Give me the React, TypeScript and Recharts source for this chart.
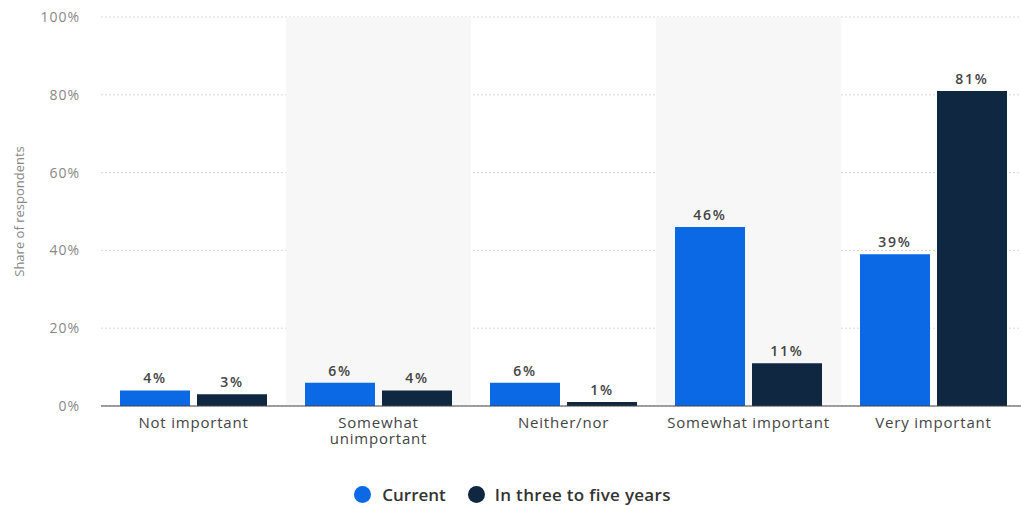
import React from 'react';
import { BarChart, Bar, XAxis, YAxis, CartesianGrid, Legend, LabelList, ReferenceArea } from 'recharts';

const categories = ['Not important', 'Somewhat\nunimportant', 'Neither/nor', 'Somewhat important', 'Very important'];
const currentValues = [4, 6, 6, 46, 39];
const futureValues = [3, 4, 1, 11, 81];
const yTicks = [0, 20, 40, 60, 80, 100];
const shadedCategories = ['Somewhat\nunimportant', 'Somewhat important'];

const BLUE = '#0b69e6';
const NAVY = '#0f2740';

const data = categories.map((c, i) => ({ name: c, current: currentValues[i], future: futureValues[i] }));

const FONT = '"Open Sans", "Noto Sans", sans-serif';

const XTick = (props: any) => {
  const { x, y, payload } = props;
  const lines = String(payload.value).split('\n');
  return (
    <g transform={`translate(${x},${y})`}>
      <text x={0} y={0} textAnchor="middle" fill="#444" fontSize={15} letterSpacing={0.8} fontFamily={FONT}>
        {lines.map((l, i) => (
          <tspan key={i} x={0} dy={i === 0 ? 14 : 16}>
            {l}
          </tspan>
        ))}
      </text>
    </g>
  );
};

const LegendContent = () => (
  <div style={{ display: 'flex', justifyContent: 'center', alignItems: 'center', fontFamily: FONT, fontSize: 17, fontWeight: 600, color: '#333', paddingLeft: 4 }}>
    <span style={{ display: 'inline-block', width: 17, height: 17, borderRadius: 9, background: BLUE, marginRight: 11 }} />
    <span style={{ marginRight: 22 }}>Current</span>
    <span style={{ display: 'inline-block', width: 17, height: 17, borderRadius: 9, background: NAVY, marginRight: 10 }} />
    <span style={{ letterSpacing: 0.3 }}>In three to five years</span>
  </div>
);

export default function App() {
  return (
    <div style={{ position: 'absolute', left: 0, top: 0, width: 1021, height: 506, overflow: 'hidden', background: '#fff' }}>
      <BarChart
        width={1026}
        height={506}
        data={data}
        margin={{ top: 17, right: 0, left: 1, bottom: 0 }}
        barGap={7}
        barCategoryGap={19}
      >
        {shadedCategories.map((c) => (
          <ReferenceArea key={c} x1={c} x2={c} fill="#f7f7f7" fillOpacity={1} stroke="none" ifOverflow="visible" />
        ))}
        <CartesianGrid vertical={false} stroke="#d8d8d8" strokeDasharray="2 2" />
        <XAxis
          dataKey="name"
          height={60}
          tick={<XTick />}
          tickLine={false}
          axisLine={{ stroke: '#444', strokeWidth: 1 }}
          interval={0}
        />
        <YAxis
          width={100}
          domain={[0, 100]}
          ticks={yTicks}
          tickFormatter={(v) => `${v}%`}
          tick={{ fill: '#888', fontSize: 14, fontFamily: FONT, letterSpacing: 1 }}
          tickLine={false}
          tickSize={0}
          tickMargin={21}
          axisLine={false}
          label={{ value: 'Share of respondents', angle: -90, position: 'insideLeft', dx: 13, fill: '#888', fontSize: 13, fontFamily: FONT, style: { textAnchor: 'middle' } }}
        />
        <Legend verticalAlign="bottom" height={40} wrapperStyle={{ top: 483, left: 0, width: 1021 }} content={<LegendContent />} />
        <Bar dataKey="current" name="Current" fill={BLUE} barSize={70} isAnimationActive={false}>
          <LabelList dataKey="current" position="top" offset={7} formatter={(v: any) => `${v}%`} fill="#444" fontSize={14} fontWeight={600} letterSpacing={1.8} fontFamily={FONT} />
        </Bar>
        <Bar dataKey="future" name="In three to five years" fill={NAVY} barSize={70} isAnimationActive={false}>
          <LabelList dataKey="future" position="top" offset={7} formatter={(v: any) => `${v}%`} fill="#444" fontSize={14} fontWeight={600} letterSpacing={1.8} fontFamily={FONT} />
        </Bar>
      </BarChart>
    </div>
  );
}
